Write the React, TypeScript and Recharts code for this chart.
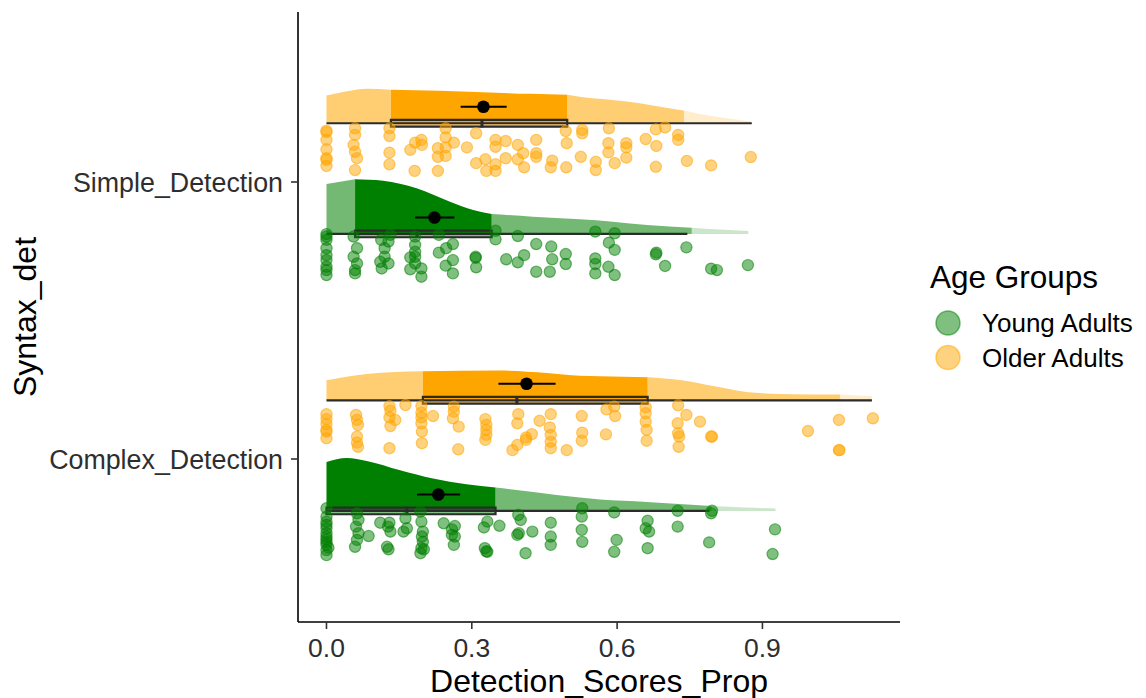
import React from 'react';
import { ComposedChart, Area, Scatter, XAxis, YAxis, ReferenceArea, ReferenceLine, Legend } from 'recharts';

// y positions: Complex_Detection = 1, Simple_Detection = 2
const categories = ['Complex_Detection', 'Simple_Detection'];
const groups = ['Young Adults', 'Older Adults'];
const colors = ['#008000', '#FFA500'];
const xTicks = [0, 0.3, 0.6, 0.9];

// half-violin density curves, [score, density]
const densOlderSimple = [[0, 1.385], [0.049, 1.63], [0.083, 1.72], [0.133, 1.68], [0.234, 1.62], [0.323, 1.55], [0.42, 1.47], [0.497, 1.42], [0.523, 1.32], [0.585, 1.17], [0.647, 1.0], [0.695, 0.8], [0.738, 0.635], [0.771, 0.46], [0.812, 0.3], [0.878, 0.07]];
const densYoungSimple = [[0, 2.5], [0.059, 2.735], [0.117, 2.665], [0.186, 2.285], [0.255, 1.615], [0.303, 1.2], [0.341, 1.0], [0.426, 0.865], [0.523, 0.735], [0.591, 0.615], [0.662, 0.45], [0.754, 0.315], [0.812, 0.225], [0.871, 0.15]];
const densOlderComplex = [[0, 1.0], [0.083, 1.32], [0.199, 1.45], [0.358, 1.485], [0.455, 1.37], [0.523, 1.23], [0.565, 1.2], [0.663, 1.15], [0.733, 1.0], [0.801, 0.7], [0.867, 0.42], [0.936, 0.32], [1.06, 0.285], [1.126, 0.2]];
const densYoungComplex = [[0, 2.45], [0.042, 2.65], [0.083, 2.5], [0.152, 2.035], [0.22, 1.62], [0.289, 1.335], [0.349, 1.17], [0.427, 0.95], [0.523, 0.67], [0.565, 0.57], [0.661, 0.45], [0.795, 0.25], [0.864, 0.175], [0.927, 0.12]];

// box stats [min, q1, median, q3, max]
const boxOlderSimple = [0, 0.133, 0.321, 0.497, 0.878];
const boxYoungSimple = [0, 0.059, 0.187, 0.341, 0.745];
const boxOlderComplex = [0, 0.199, 0.393, 0.663, 1.126];
const boxYoungComplex = [0, 0, 0.166, 0.349, 0.791];

// mean with interval [mean, low, high]
const meanOlderSimple = [0.324, 0.277, 0.372];
const meanYoungSimple = [0.223, 0.183, 0.264];
const meanOlderComplex = [0.413, 0.355, 0.473];
const meanYoungComplex = [0.231, 0.187, 0.276];

// where the faint tail of each cloud starts
const tailOlderSimple = 0.738;
const tailYoungSimple = 0.754;
const tailOlderComplex = 1.06;
const tailYoungComplex = 0.795;

// raw points [score, vertical jitter from category centre]
const ptsOlderSimple = [
  [0, 0.185], [0, 0.18], [0, 0.152], [0, 0.118], [0, 0.086], [0, 0.08], [0, 0.058],
  [0.059, 0.194], [0.059, 0.17], [0.056, 0.134], [0.059, 0.109], [0.063, 0.086], [0.059, 0.043],
  [0.13, 0.194], [0.13, 0.166], [0.13, 0.106], [0.13, 0.064],
  [0.173, 0.116], [0.182, 0.04], [0.183, 0.142], [0.196, 0.152], [0.197, 0.134],
  [0.23, 0.122], [0.23, 0.091], [0.23, 0.04],
  [0.246, 0.194], [0.246, 0.161], [0.246, 0.125], [0.246, 0.094], [0.263, 0.142],
  [0.29, 0.125], [0.309, 0.176], [0.309, 0.068], [0.328, 0.082], [0.33, 0.04],
  [0.349, 0.152], [0.349, 0.127], [0.349, 0.064], [0.349, 0.04],
  [0.37, 0.148], [0.37, 0.086], [0.395, 0.134], [0.395, 0.082], [0.406, 0.104], [0.408, 0.053],
  [0.433, 0.152], [0.433, 0.104], [0.433, 0.091], [0.463, 0.053], [0.466, 0.077],
  [0.494, 0.184], [0.496, 0.14], [0.495, 0.053],
  [0.525, 0.091], [0.528, 0.188], [0.528, 0.176], [0.556, 0.073], [0.556, 0.043],
  [0.583, 0.194], [0.582, 0.14], [0.582, 0.107], [0.595, 0.068],
  [0.619, 0.14], [0.619, 0.125], [0.619, 0.088], [0.659, 0.155],
  [0.68, 0.19], [0.699, 0.197], [0.681, 0.13], [0.68, 0.055],
  [0.726, 0.17], [0.726, 0.152], [0.744, 0.076], [0.794, 0.06], [0.876, 0.09],
];
const ptsYoungSimple = [
  [0, -0.188], [0, -0.197], [0, -0.209], [0, -0.239], [0, -0.264], [0, -0.282], [0, -0.306], [0, -0.318], [0, -0.336],
  [0.056, -0.197], [0.063, -0.239], [0.056, -0.27], [0.063, -0.294], [0.059, -0.318], [0.059, -0.33],
  [0.113, -0.209], [0.128, -0.215], [0.12, -0.239], [0.12, -0.27], [0.111, -0.288], [0.114, -0.312], [0.128, -0.294], [0.132, -0.191],
  [0.183, -0.197], [0.183, -0.227], [0.183, -0.252], [0.183, -0.27], [0.183, -0.294], [0.173, -0.272], [0.173, -0.315], [0.196, -0.312], [0.196, -0.342],
  [0.232, -0.255], [0.247, -0.239], [0.261, -0.224], [0.261, -0.282], [0.246, -0.302], [0.261, -0.33], [0.232, -0.191],
  [0.308, -0.27], [0.308, -0.274], [0.309, -0.308], [0.349, -0.176], [0.349, -0.207], [0.371, -0.279],
  [0.395, -0.195], [0.395, -0.29], [0.408, -0.264], [0.433, -0.224], [0.433, -0.324],
  [0.464, -0.233], [0.466, -0.279], [0.461, -0.324], [0.494, -0.26], [0.494, -0.296],
  [0.555, -0.179], [0.555, -0.276], [0.555, -0.296], [0.555, -0.33],
  [0.583, -0.219], [0.595, -0.245], [0.595, -0.185], [0.582, -0.306], [0.595, -0.336],
  [0.681, -0.255], [0.68, -0.261], [0.699, -0.303], [0.743, -0.236], [0.794, -0.313], [0.806, -0.318], [0.87, -0.3],
];
const ptsOlderComplex = [
  [0, 0.162], [0, 0.144], [0, 0.126], [0, 0.105], [0, 0.099], [0, 0.075],
  [0.061, 0.159], [0.063, 0.141], [0.065, 0.123], [0.063, 0.081], [0.063, 0.059], [0.065, 0.044],
  [0.13, 0.191], [0.132, 0.174], [0.13, 0.15], [0.142, 0.141], [0.132, 0.119], [0.13, 0.039],
  [0.163, 0.195],
  [0.196, 0.191], [0.196, 0.167], [0.196, 0.15], [0.196, 0.129], [0.197, 0.099], [0.197, 0.057],
  [0.22, 0.155],
  [0.263, 0.189], [0.263, 0.171], [0.261, 0.147], [0.273, 0.117], [0.272, 0.035],
  [0.328, 0.144], [0.33, 0.123], [0.33, 0.105], [0.33, 0.087], [0.328, 0.069],
  [0.396, 0.162], [0.394, 0.129], [0.384, 0.032], [0.394, 0.051], [0.412, 0.069], [0.412, 0.078], [0.424, 0.09], [0.44, 0.138],
  [0.463, 0.162], [0.461, 0.114], [0.463, 0.087], [0.463, 0.062], [0.463, 0.039],
  [0.496, 0.032], [0.527, 0.155], [0.528, 0.095], [0.527, 0.066],
  [0.578, 0.179], [0.594, 0.189], [0.596, 0.155], [0.577, 0.089],
  [0.659, 0.187], [0.659, 0.165], [0.659, 0.135], [0.661, 0.105], [0.661, 0.066],
  [0.726, 0.194], [0.743, 0.159], [0.725, 0.129], [0.726, 0.093], [0.728, 0.081], [0.727, 0.044],
  [0.771, 0.135], [0.794, 0.081], [0.796, 0.081],
  [0.994, 0.101], [1.058, 0.141], [1.128, 0.147], [1.059, 0.032], [1.058, 0.032],
];
const ptsYoungComplex = [
  [0, -0.178], [0, -0.208], [0, -0.226], [0, -0.238], [0, -0.25], [0, -0.268], [0, -0.28], [0, -0.29], [0, -0.3], [0, -0.31], [0.004, -0.32], [0, -0.329], [0, -0.347],
  [0.063, -0.196], [0.066, -0.22], [0.061, -0.244], [0.066, -0.268], [0.063, -0.292], [0.059, -0.317], [0.087, -0.278],
  [0.111, -0.23], [0.127, -0.244], [0.13, -0.23], [0.132, -0.262], [0.125, -0.317], [0.128, -0.326],
  [0.159, -0.262], [0.166, -0.25], [0.163, -0.214],
  [0.194, -0.19], [0.196, -0.226], [0.199, -0.262], [0.197, -0.28], [0.199, -0.299], [0.196, -0.322], [0.194, -0.34], [0.201, -0.326],
  [0.242, -0.232], [0.259, -0.254], [0.265, -0.242], [0.259, -0.274], [0.265, -0.28], [0.263, -0.31],
  [0.325, -0.247], [0.332, -0.226], [0.332, -0.335], [0.33, -0.333], [0.327, -0.322], [0.357, -0.241],
  [0.396, -0.202], [0.401, -0.22], [0.397, -0.268], [0.394, -0.274], [0.425, -0.262], [0.411, -0.34],
  [0.463, -0.23], [0.463, -0.28], [0.463, -0.31],
  [0.528, -0.178], [0.527, -0.208], [0.527, -0.256], [0.528, -0.299],
  [0.594, -0.193], [0.663, -0.223], [0.659, -0.25], [0.666, -0.262], [0.725, -0.187], [0.725, -0.244],
  [0.796, -0.187], [0.794, -0.196], [0.79, -0.301], [0.663, -0.322], [0.594, -0.335], [0.599, -0.292],
  [0.926, -0.254], [0.921, -0.343],
];

const X_DOMAIN = [-0.0588, 1.184];
const Y_DOMAIN = [0.4116, 2.6137];
const DENS_SCALE = 20 / 277;
const CLOUD_OFFSET = [-0.1875, 0.212];
const MEAN_LIFT = 0.0596;
const BOX_HALF = 0.012;
const FONT = '"Liberation Sans", Arial, Helvetica, sans-serif';

const clouds = [
  { cat: 2, group: 1, dens: densOlderSimple, box: boxOlderSimple, mean: meanOlderSimple, tail: tailOlderSimple },
  { cat: 2, group: 0, dens: densYoungSimple, box: boxYoungSimple, mean: meanYoungSimple, tail: tailYoungSimple },
  { cat: 1, group: 1, dens: densOlderComplex, box: boxOlderComplex, mean: meanOlderComplex, tail: tailOlderComplex },
  { cat: 1, group: 0, dens: densYoungComplex, box: boxYoungComplex, mean: meanYoungComplex, tail: tailYoungComplex },
];

const points = [
  { cat: 2, group: 1, pts: ptsOlderSimple },
  { cat: 2, group: 0, pts: ptsYoungSimple },
  { cat: 1, group: 1, pts: ptsOlderComplex },
  { cat: 1, group: 0, pts: ptsYoungComplex },
];

const baseOf = (c: any) => c.cat + CLOUD_OFFSET[c.group];

// split a cloud into shaded pieces: light / dark (IQR) / light / faint tail
const cloudSegments = (c: any) => {
  const [, q1, , q3] = c.box;
  const start = c.dens[0][0];
  const end = c.dens[c.dens.length - 1][0];
  const cuts = [[start, q1, 0.55], [q1, q3, 1], [q3, c.tail, 0.55], [c.tail, end, 0.2]];
  const base = baseOf(c);
  return cuts
    .filter(([a, b]) => b > a)
    .map(([a, b, op]) => ({
      op,
      data: c.dens
        .filter(([x]: number[]) => x >= a - 1e-9 && x <= b + 1e-9)
        .map(([x, d]: number[]) => ({ x, y: [base, base + d * DENS_SCALE] })),
    }));
};

const meanData = clouds.map((c) => ({ x: c.mean[0], y: baseOf(c) + MEAN_LIFT }));

const dotShape = (color: string) => (props: any) => (
  <circle cx={props.cx} cy={props.cy} r={5.6} fill={color} fillOpacity={0.5} stroke={color} strokeOpacity={0.55} strokeWidth={1.2} />
);

const meanShape = (props: any) => <circle cx={props.cx} cy={props.cy} r={6.3} fill="#000" />;

const LegendBox = () => (
  <svg width={246} height={130} style={{ fontFamily: FONT }}>
    <text x={30} y={38} fontSize={31.5} fill="#000">Age Groups</text>
    {groups.map((g, i) => (
      <g key={g}>
        <circle cx={48} cy={73 + i * 34.6} r={12} fill={colors[i]} fillOpacity={0.5} stroke={colors[i]} strokeOpacity={0.5} strokeWidth={1.5} />
        <text x={82} y={73 + i * 34.6 + 9.3} fontSize={26} fill="#000">{g}</text>
      </g>
    ))}
  </svg>
);

export default function App() {
  return (
    <div style={{ position: 'absolute', left: 0, top: 0, width: 1146, height: 698, background: '#fff', fontFamily: FONT }}>
      <ComposedChart width={1146} height={698} margin={{ top: 12, right: 246, bottom: 0, left: 0 }}>
        <XAxis
          type="number"
          dataKey="x"
          domain={X_DOMAIN}
          allowDataOverflow
          ticks={xTicks}
          tickFormatter={(v: number) => v.toFixed(1)}
          axisLine={{ stroke: '#000', strokeWidth: 1.6 }}
          tickLine={{ stroke: '#333', strokeWidth: 1.6 }}
          tickSize={7}
          tickMargin={9}
          tick={{ fill: '#2e2e2e', fontSize: 26.5 }}
          height={76}
          label={{ value: 'Detection_Scores_Prop', position: 'insideBottom', offset: 6, style: { fontSize: '32px', fill: '#000' } }}
        />
        <YAxis
          type="number"
          dataKey="y"
          domain={Y_DOMAIN}
          allowDataOverflow
          ticks={[1, 2]}
          tickFormatter={(v: number) => categories[v - 1]}
          axisLine={{ stroke: '#000', strokeWidth: 1.6 }}
          tickLine={{ stroke: '#333', strokeWidth: 1.6 }}
          tickSize={7}
          tickMargin={8}
          tick={{ fill: '#2e2e2e', fontSize: 26.8 }}
          width={298}
          label={{ value: 'Syntax_det', angle: -90, position: 'insideLeft', offset: 25, style: { textAnchor: 'middle', fontSize: '32px', fill: '#000' } }}
        />

        {clouds.map((c, i) =>
          cloudSegments(c).map((s, j) => (
            <Area
              key={`cloud-${i}-${j}`}
              data={s.data}
              dataKey="y"
              type="monotone"
              stroke="none"
              fill={colors[c.group]}
              fillOpacity={s.op}
              isAnimationActive={false}
            />
          ))
        )}

        {points.map((p, i) => (
          <Scatter
            key={`pts-${i}`}
            data={p.pts.map(([x, j]) => ({ x, y: p.cat + j }))}
            shape={dotShape(colors[p.group])}
            isAnimationActive={false}
          />
        ))}

        {clouds.map((c, i) => (
          <ReferenceLine
            key={`wh-${i}`}
            segment={[{ x: c.box[0], y: baseOf(c) }, { x: c.box[4], y: baseOf(c) }]}
            stroke="#2b2b2b"
            strokeWidth={2.2}
          />
        ))}
        {clouds.map((c, i) => (
          <ReferenceArea
            key={`box-${i}`}
            x1={c.box[1]}
            x2={c.box[3]}
            y1={baseOf(c) - BOX_HALF}
            y2={baseOf(c) + BOX_HALF}
            fill={colors[c.group]}
            fillOpacity={0.5}
            stroke="#2b2b2b"
            strokeWidth={2.2}
          />
        ))}
        {clouds.map((c, i) => (
          <ReferenceLine
            key={`med-${i}`}
            segment={[{ x: c.box[2], y: baseOf(c) - BOX_HALF - 0.003 }, { x: c.box[2], y: baseOf(c) + BOX_HALF + 0.003 }]}
            stroke="#2b2b2b"
            strokeWidth={3}
          />
        ))}
        {clouds.map((c, i) => (
          <ReferenceLine
            key={`ci-${i}`}
            segment={[{ x: c.mean[1], y: baseOf(c) + MEAN_LIFT }, { x: c.mean[2], y: baseOf(c) + MEAN_LIFT }]}
            stroke="#000"
            strokeWidth={2}
          />
        ))}
        <Scatter data={meanData} shape={meanShape} isAnimationActive={false} />

        <Legend
          layout="vertical"
          align="center"
          verticalAlign="middle"
          content={() => <LegendBox />}
          wrapperStyle={{ position: 'absolute', left: 900, top: 250, width: 246, height: 130 }}
        />
      </ComposedChart>
    </div>
  );
}
